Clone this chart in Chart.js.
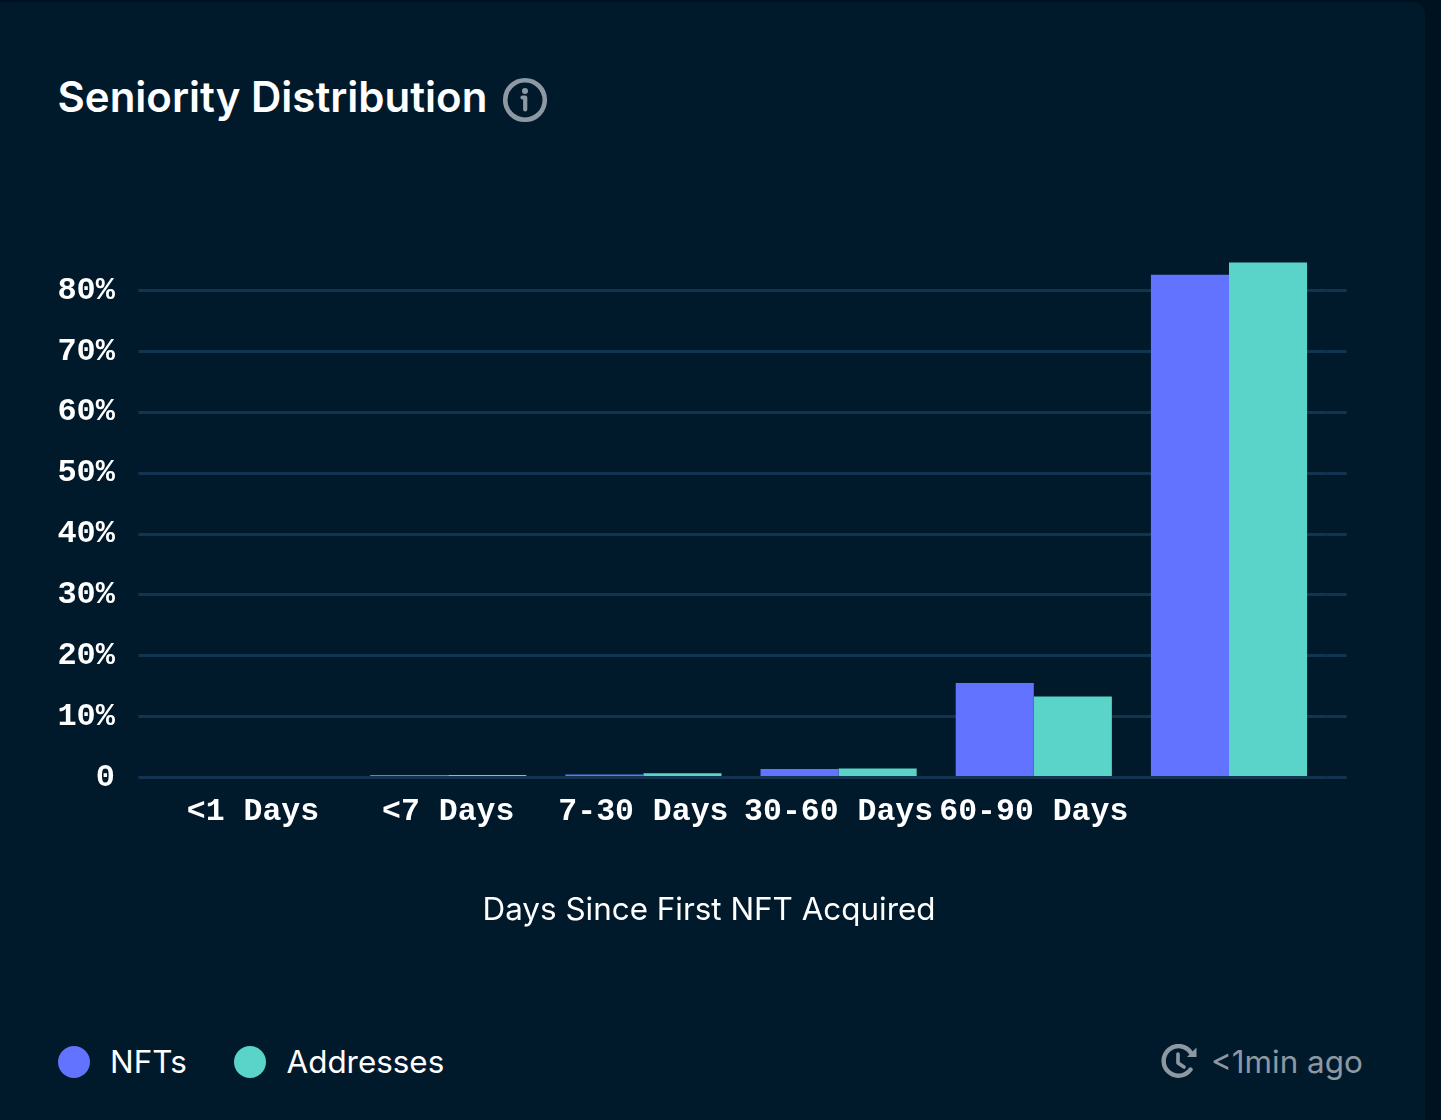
<!DOCTYPE html>
<html>
<head>
<meta charset="utf-8">
<script src="https://cdn.jsdelivr.net/npm/chart.js@4"></script>
<style>
html,body{margin:0;padding:0;background:#00121f;width:1441px;height:1120px;overflow:hidden}
#card{position:absolute;left:-10px;top:2px;width:1435px;height:1130px;background:#001a2c;border-radius:12px}
#wrap{position:absolute;left:58px;top:200px;width:1305px;height:750px}
.t{position:absolute;font-family:Inter,sans-serif;white-space:nowrap;line-height:1}
#title{left:57.5px;top:76px;font-size:42px;font-weight:600;color:#fff}
.dot{position:absolute;width:32px;height:32px;border-radius:50%;top:1046px}
.leg{top:1047px;font-size:31.4px;color:#fff}
#ago{left:1211px;top:1047px;font-size:31.4px;color:#8d98a3}
svg{position:absolute}
</style>
</head>
<body>
<div id="card"></div>
<div id="title" class="t">Seniority Distribution</div>
<svg style="left:502px;top:77px" width="46" height="46" viewBox="0 0 46 46">
  <circle cx="23" cy="23" r="19.8" fill="none" stroke="#8d98a3" stroke-width="4.6"/>
  <circle cx="23" cy="14" r="3" fill="#8d98a3"/>
  <path d="M20.5 20.5h2.7v12" fill="none" stroke="#8d98a3" stroke-width="4.2" stroke-linecap="round" stroke-linejoin="round"/>
</svg>
<div id="wrap"><canvas id="c"></canvas></div>
<div class="dot" style="left:58px;background:#6173ff"></div>
<div class="t leg" style="left:110px">NFTs</div>
<div class="dot" style="left:234px;background:#5ad3c8"></div>
<div class="t leg" style="left:286.5px">Addresses</div>
<svg style="left:1161px;top:1044px" width="38" height="36" viewBox="0 0 38 36">
  <path d="M29.5 25.5A14.8 14.8 0 1 1 30 9" fill="none" stroke="#8d98a3" stroke-width="4.4" stroke-linecap="round"/>
  <path d="M35.5 3.5v9.5h-9.5z" fill="#8d98a3"/>
  <path d="M17 10v9l6 4" fill="none" stroke="#8d98a3" stroke-width="3.6" stroke-linecap="round" stroke-linejoin="round"/>
</svg>
<div id="ago" class="t">&lt;1min ago</div>
<script>
const categories = ['<1 Days', '<7 Days', '7-30 Days', '30-60 Days', '60-90 Days', ''];
const nfts = [0, 0.42, 0.5, 1.4, 15.55, 82.6];
const addresses = [0, 0.4, 0.7, 1.5, 13.3, 84.65];
const axisTitle = 'Days Since First NFT Acquired';
const GRID = '#13344f';
const yMax = 87.9;
const xTickFont = {family: '"Liberation Mono", monospace', size: 31.5, weight: 'bold'};
const yTickFont = {family: '"Liberation Mono", monospace', size: 32, weight: 'bold'};
const onlyTens = s => { s.ticks = s.ticks.filter(t => t.value % 10 === 0); };
new Chart(document.getElementById('c'), {
  type: 'bar',
  data: {
    labels: categories,
    datasets: [
      {label: 'NFTs', data: nfts, backgroundColor: '#6173ff', categoryPercentage: 0.8, barPercentage: 1},
      {label: 'Addresses', data: addresses, backgroundColor: '#5ad3c8', categoryPercentage: 0.8, barPercentage: 1}
    ]
  },
  options: {
    responsive: true,
    maintainAspectRatio: false,
    animation: false,
    layout: {padding: {left: 0, right: 3, top: 0, bottom: 0}},
    plugins: {
      legend: {display: false},
      tooltip: {enabled: false},
      title: {
        display: true, text: axisTitle, position: 'bottom', align: 'center', color: '#fff',
        font: {family: 'Inter, sans-serif', size: 31.4, weight: 'normal'},
        padding: {top: 52, bottom: 21}
      }
    },
    scales: {
      x: {
        grid: {display: false},
        border: {display: false},
        ticks: {color: '#fff', font: xTickFont, maxRotation: 0, autoSkip: false, padding: 8}
      },
      y: {
        min: 0, max: yMax,
        afterBuildTicks: onlyTens,
        afterFit(s) { s.width = 97.4; },
        grid: {color: GRID, lineWidth: 3, tickLength: 17, tickColor: GRID},
        border: {display: false},
        ticks: {
          color: '#fff', font: yTickFont, stepSize: 10, padding: 23.4,
          callback: v => v === 0 ? '0' : v + '%'
        }
      },
      y2: {
        position: 'right', min: 0, max: yMax,
        afterBuildTicks: onlyTens,
        afterFit(s) { s.width = 33.4; },
        grid: {drawOnChartArea: false, color: GRID, lineWidth: 3, tickLength: 20},
        border: {display: false},
        ticks: {display: false, stepSize: 10}
      }
    }
  }
});
</script>
</body>
</html>
